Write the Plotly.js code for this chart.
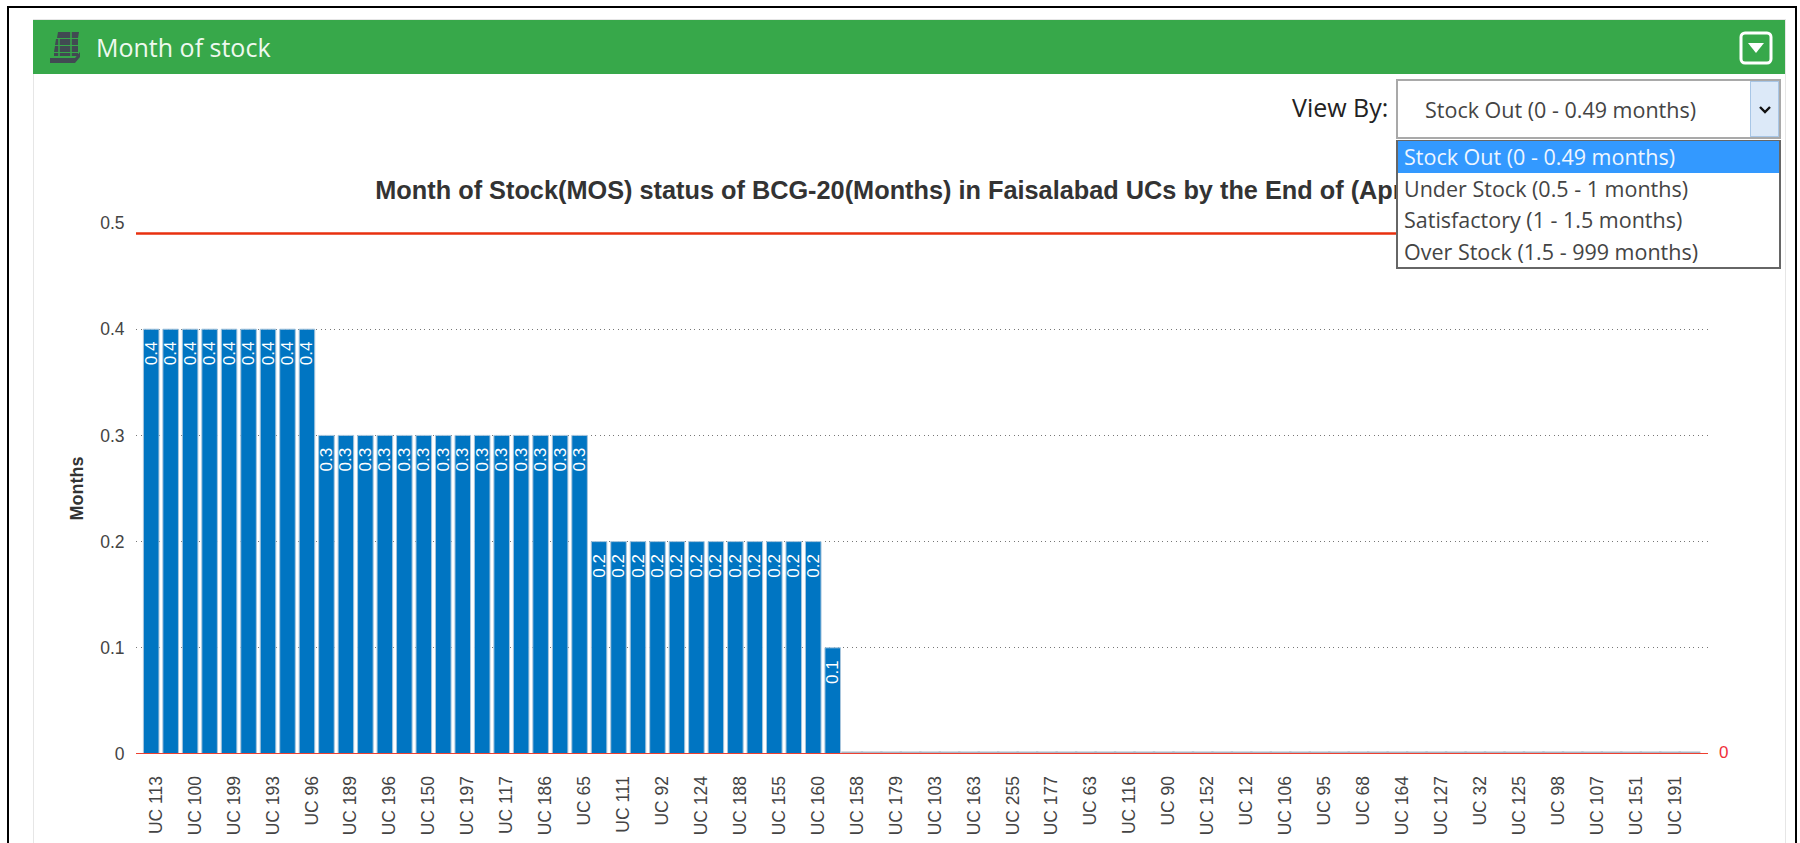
<!DOCTYPE html>
<html>
<head>
<meta charset="utf-8">
<script src="https://cdn.plot.ly/plotly-3.0.1.min.js"></script>
<style>
html,body{margin:0;padding:0;background:#fff;width:1800px;height:843px;overflow:hidden;font-family:"Open Sans",sans-serif}
#frame{position:absolute;left:7px;top:6px;width:1790px;height:860px;border:2px solid #000;box-sizing:border-box}
#panel{position:absolute;left:33px;top:19px;width:1753px;height:860px;border:1px solid #e6e6e6;box-sizing:border-box}
#head{position:absolute;left:33px;top:20px;width:1752px;height:53.5px;background:#37a84a}
#headtxt{position:absolute;left:96px;top:30px;color:#eef9ef;font-size:25px;line-height:34px;z-index:2}
#viewby{position:absolute;left:1292px;top:90px;font-size:25px;line-height:34px;color:#222;white-space:nowrap}
#sel{position:absolute;left:1396px;top:79px;width:385px;height:60px;border:2px solid #a9a9a9;box-sizing:border-box;background:#fff;font-size:21.5px;color:#444}
#sel span{position:absolute;left:27px;top:15px;line-height:28px;white-space:nowrap}
#btn{position:absolute;right:0;top:0;width:29px;height:56px;background:#dce9f8;border:1px solid #a8c6e6;box-sizing:border-box}
#list{position:absolute;left:1396px;top:140px;width:385px;height:129px;border:1px solid #666;border-width:1px 2px 2px 2px;box-sizing:border-box;background:#fff;font-size:21.5px;color:#444;z-index:3}
#list div{height:31.5px;line-height:31px;padding-left:6px;white-space:nowrap}
#list div.on{background:#3399ff;color:#eef6ff}
#chart{position:absolute;left:0;top:0;width:1800px;height:843px}
svg.ic{position:absolute}
</style>
</head>
<body>
<div id="panel"></div>
<div id="chart"></div>
<div id="frame"></div>
<div id="head"></div>
<svg class="ic" style="left:49px;top:30px;z-index:2" width="34" height="34" viewBox="0 0 34 34">
<g fill="#414a52">
<path d="M9 2h21l-1 6H8zM7 9h22v6H6zM6 16h23v6H5zM5 23h24v3H5z"/>
<path d="M1 28h25l5-6v5l-5 6H1z"/>
</g>
<g stroke="#37a84a" stroke-width="1.5"><path d="M10 9v17M22 2v24"/></g>
</svg>
<div id="headtxt">Month of stock</div>
<svg class="ic" style="left:1739px;top:31px;z-index:2" width="34" height="34" viewBox="0 0 34 34">
<rect x="2" y="2" width="30" height="30" rx="4" fill="none" stroke="#fff" stroke-width="3"/>
<path d="M9 12h16l-8 10z" fill="#fff"/>
</svg>
<div id="viewby">View By:</div>
<div id="sel"><span>Stock Out (0 - 0.49 months)</span>
<div id="btn"><svg width="27" height="54" viewBox="0 0 27 54"><path d="M9 25l5 5 5-5" fill="none" stroke="#111" stroke-width="2.4"/></svg></div>
</div>
<div id="list">
<div class="on">Stock Out (0 - 0.49 months)</div>
<div>Under Stock (0.5 - 1 months)</div>
<div>Satisfactory (1 - 1.5 months)</div>
<div>Over Stock (1.5 - 999 months)</div>
</div>
<script>
const tickLabels = ["UC 113","UC 100","UC 199","UC 193","UC 96","UC 189","UC 196","UC 150","UC 197","UC 117",
"UC 186","UC 65","UC 111","UC 92","UC 124","UC 188","UC 155","UC 160","UC 158","UC 179",
"UC 103","UC 163","UC 255","UC 177","UC 63","UC 116","UC 90","UC 152","UC 12","UC 106",
"UC 95","UC 68","UC 164","UC 127","UC 32","UC 125","UC 98","UC 107","UC 151","UC 191"];
const barPositions = [0,1,2,3,4,5,6,7,8,9,10,11,12,13,14,15,16,17,18,19,20,21,22,23,24,25,26,27,28,29,30,31,32,33,34,35,36,37,38,39,
40,41,42,43,44,45,46,47,48,49,50,51,52,53,54,55,56,57,58,59,60,61,62,63,64,65,66,67,68,69,70,71,72,73,74,75,76,77,78,79];
const monthsOfStock = [0.4,0.4,0.4,0.4,0.4,0.4,0.4,0.4,0.4,
0.3,0.3,0.3,0.3,0.3,0.3,0.3,0.3,0.3,0.3,0.3,0.3,0.3,0.3,
0.2,0.2,0.2,0.2,0.2,0.2,0.2,0.2,0.2,0.2,0.2,0.2,
0.1,
0,0,0,0,0,0,0,0,0,0,0,0,0,0,0,0,0,0,0,0,0,0,0,0,0,0,0,0,0,0,0,0,0,0,0,0,0,0,0,0,0,0,0,0];
const upperLimit = 0.49;
const lowerLimit = 0;
const chartTitle = "Month of Stock(MOS) status of BCG-20(Months) in Faisalabad UCs by the End of (Apr";

const tickVals = barPositions.filter(i => i % 2 === 0).map(i => i + 0.25);
const zeroBars = barPositions.filter(i => monthsOfStock[i] === 0);

Plotly.newPlot("chart", [{
  type: "bar",
  x: barPositions,
  y: monthsOfStock,
  width: 0.8,
  marker: {color: "#0075c2", line: {color: "#a9c6dd", width: 1}},
  text: monthsOfStock.map(v => v > 0 ? String(v) + "\u00a0\u00a0" : ""),
  textposition: "inside",
  insidetextanchor: "end",
  textangle: -90,
  constraintext: "none",
  textfont: {family: "Liberation Sans, Arial, sans-serif", size: 17, color: "#fff"},
  hoverinfo: "x+y"
}, {
  type: "scatter",
  mode: "markers",
  x: zeroBars,
  y: zeroBars.map(i => monthsOfStock[i]),
  cliponaxis: true,
  marker: {symbol: "line-ew", size: 15.6, line: {color: "#aab8c6", width: 5}},
  hoverinfo: "skip"
}], {
  width: 1800, height: 843,
  margin: {l: 136, r: 92, t: 223, b: 89, pad: 0},
  paper_bgcolor: "rgba(0,0,0,0)",
  plot_bgcolor: "rgba(0,0,0,0)",
  showlegend: false,
  bargap: 0.2,
  title: {text: "<b>" + chartTitle + "</b>", xref: "container", x: 0.2085, xanchor: "left", yref: "container", y: 0.775, yanchor: "middle",
    font: {family: "Liberation Sans, Arial, sans-serif", size: 25.3, color: "#333"}},
  xaxis: {
    range: [-0.78, 79.95], showgrid: false, zeroline: false, showline: false,
    tickmode: "array", tickvals: tickVals, ticktext: tickLabels, tickangle: -90,
    ticks: "outside", ticklen: 14, tickcolor: "rgba(0,0,0,0)",
    tickfont: {family: "Liberation Sans, Arial, sans-serif", size: 17.5, color: "#444"}
  },
  yaxis: {
    range: [0, 0.5], tickmode: "array", tickvals: [0, 0.1, 0.2, 0.3, 0.4, 0.5], ticktext: ["0","0.1","0.2","0.3","0.4","0.5"],
    showgrid: true, gridcolor: "#777", griddash: "1px,3.5px", gridwidth: 1, zeroline: false, showline: false,
    ticks: "outside", ticklen: 7, tickcolor: "rgba(0,0,0,0)",
    tickfont: {family: "Liberation Sans, Arial, sans-serif", size: 17.5, color: "#444"},
    title: {text: "<b>Months</b>", standoff: 11, font: {family: "Liberation Sans, Arial, sans-serif", size: 18, color: "#333"}}
  },
  shapes: [
    {type: "line", xref: "paper", x0: 0, x1: 1, yref: "y", y0: upperLimit, y1: upperLimit, line: {color: "#e8300f", width: 2.5}, layer: "above"},
    {type: "line", xref: "paper", x0: 0, x1: 1, yref: "y", y0: lowerLimit, y1: lowerLimit, line: {color: "#ee4030", width: 2}, layer: "above"}
  ],
  annotations: [
    {xref: "paper", x: 1, xanchor: "left", xshift: 9, yref: "y", y: lowerLimit, yanchor: "middle", yshift: 2, text: String(lowerLimit), showarrow: false,
     font: {family: "Liberation Sans, Arial, sans-serif", size: 17, color: "#f0303a"}}
  ]
}, {displayModeBar: false, responsive: false});
</script>
</body>
</html>
